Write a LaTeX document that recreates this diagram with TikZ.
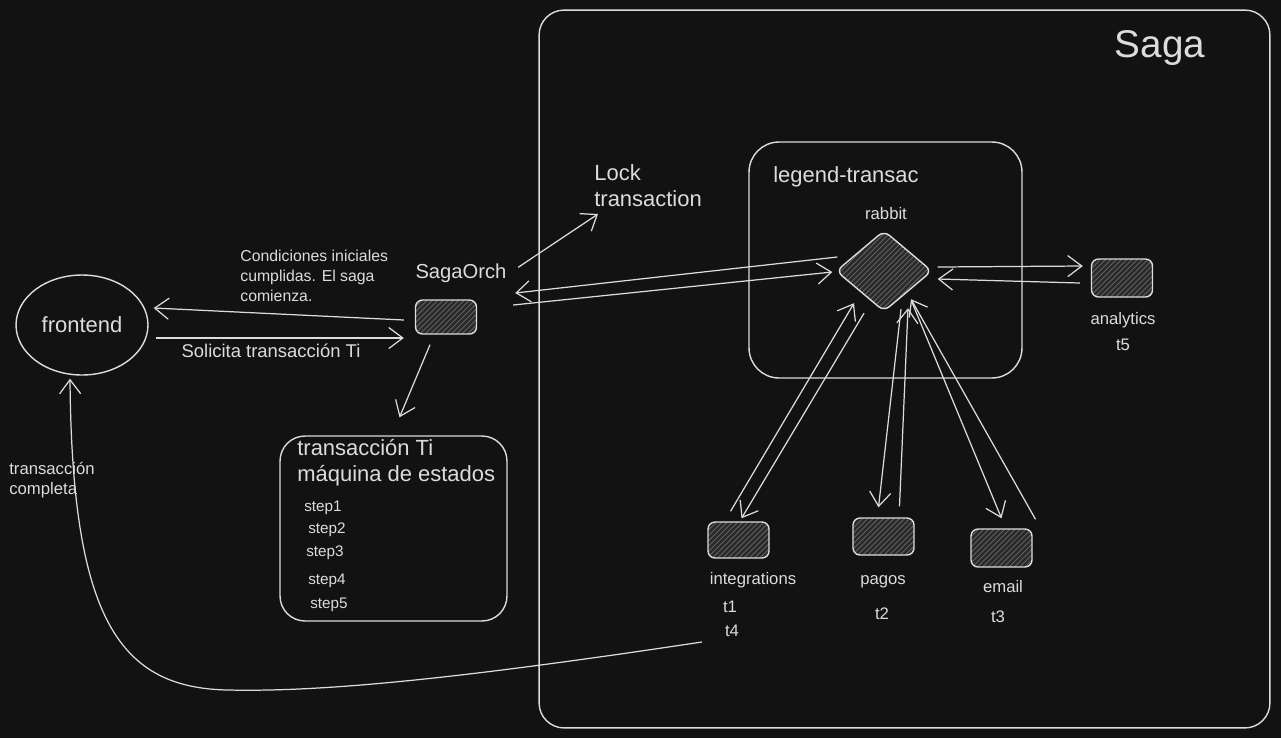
\documentclass[tikz,border=0pt]{standalone}
\usepackage{fontspec}
\setmainfont{Liberation Sans}
\usetikzlibrary{shapes.geometric,arrows.meta,patterns,calc}
\definecolor{bgc}{HTML}{121212}
\definecolor{inkc}{HTML}{DCDCDC}
\definecolor{hatchc}{HTML}{6A6A6A}
\definecolor{boxc}{HTML}{2A2A2A}
\tikzset{
  svc/.style={draw=inkc, line width=0.8pt, rounded corners=4pt, minimum width=1.22cm, minimum height=0.72cm,
    preaction={fill=boxc}, pattern=north east lines, pattern color=hatchc},
  areabox/.style={draw=inkc, line width=0.8pt},
  lbl/.style={text=inkc, font=\fontsize{9.5}{11.3}\selectfont},
  steptext/.style={text=inkc, font=\fontsize{8.7}{10}\selectfont},
  big/.style={text=inkc, font=\fontsize{12.5}{14.5}\selectfont},
  link/.style={draw=inkc, line width=0.7pt, -{Straight Barb[length=8pt,width=12pt]}},
}
\begin{document}
\begin{tikzpicture}[x=0.02cm,y=-0.02cm]
\useasboundingbox (0,0) rectangle (1281,738);
\fill[bgc] (0,0) rectangle (1281,738);
% areas
\node[areabox, minimum width=14.62cm, minimum height=14.36cm, rounded corners=0.5cm] (saga) at (904.5,369) {};
\node[text=inkc, font=\fontsize{22}{26}\selectfont] (sagat) at (1160,48) {Saga};
\node[areabox, minimum width=5.46cm, minimum height=4.72cm, rounded corners=0.6cm] (legend) at (885.5,260) {};
\node[big] (legendt) at (846,177) {legend-transac};
% frontend and orchestrator
\node[ellipse, draw=inkc, line width=0.8pt, minimum width=2.64cm, minimum height=2cm, big] (front) at (82,325) {frontend};
\node[svc, minimum height=0.68cm] (orch) at (446,317) {};
\node[big, font=\fontsize{11.5}{14}\selectfont] (orcht) at (461,273) {SagaOrch};
\node[big, align=left, anchor=south west, inner sep=0pt] (lock) at (594,207) {Lock\\transaction};
\node[lbl, font=\fontsize{9}{11.3}\selectfont, align=left, anchor=north west, inner sep=0pt] (cond) at (240,250) {Condiciones iniciales\\cumplidas. El saga\\comienza.};
\node[lbl, font=\fontsize{10.5}{12}\selectfont] (solt) at (271,351) {Solicita transacción Ti};
\node[lbl, align=left, anchor=north west, inner sep=0pt] (donet) at (9,462) {transacción\\completa};
% state machine
\node[areabox, minimum width=4.54cm, minimum height=3.7cm, rounded corners=0.5cm] (tbox) at (393.5,528.5) {};
\node[big, font=\fontsize{12.5}{15}\selectfont, align=left, anchor=north west, inner sep=0pt] (tboxt) at (297,439) {transacción Ti\\máquina de estados};
\node[steptext] (s1) at (323,508) {step1};
\node[steptext] (s2) at (327,530) {step2};
\node[steptext] (s3) at (325,553) {step3};
\node[steptext] (s4) at (327,581) {step4};
\node[steptext] (s5) at (329,605) {step5};
% broker and services
\node[svc, diamond, minimum width=1.92cm, minimum height=1.62cm, inner sep=0pt] (rabbit) at (884,271) {};
\node[lbl] (rabbitt) at (886,214) {rabbit};
\node[svc, minimum height=0.76cm] (ana) at (1122,278) {};
\node[lbl] (anat) at (1123,320) {analytics};
\node[lbl] (t5) at (1123,345) {t5};
\node[svc] (integ) at (738.5,540) {};
\node[lbl] (integt) at (753,580) {integrations};
\node[lbl] (t1) at (730,607) {t1};
\node[lbl] (t4) at (732,631) {t4};
\node[svc, minimum height=0.74cm] (pagos) at (883.5,536.5) {};
\node[lbl] (pagost) at (883,582) {pagos};
\node[lbl] (t2) at (882,614) {t2};
\node[svc, minimum height=0.76cm] (email) at (1001.5,548) {};
\node[lbl] (emailt) at (1003,587) {email};
\node[lbl] (t3) at (998,617) {t3};
% connectors
\draw[link] ($(orch.west)+(-11,3)$) -- ($(front.east)+(5,-17)$);
\draw[link] ($(front.east)+(7,13)$) -- ($(orch.west)+(-11,21)$);
\draw[link] ($(orch.north east)+(41,-32)$) -- ($(lock.south west)+(4,7)$);
\draw[link] ($(orch.south)+(-16,10)$) -- ($(tbox.north)+(6,-18)$);
\draw[link] ($(rabbit.west)+(2,-14)$) -- ($(orch.east)+(38,-24)$);
\draw[link] ($(orch.east)+(36,-12)$) -- ($(rabbit.west)+(-3,1)$);
\draw[link] ($(rabbit.east)+(5,-4)$) -- ($(ana.west)+(-8,-12)$);
\draw[link] ($(ana.west)+(-11,5)$) -- ($(rabbit.east)+(5,8)$);
\draw[link] ($(integ.north)+(-8,-10)$) -- ($(rabbit.south)+(-30,-9)$);
\draw[link] ($(rabbit.south)+(-20,1)$) -- ($(integ.north)+(3,-3)$);
\draw[link] ($(rabbit.south)+(17,-3)$) -- ($(pagos.north)+(-5,-10)$);
\draw[link] ($(pagos.north)+(16,-11)$) -- ($(rabbit.south)+(24,-4)$);
\draw[link] ($(rabbit.south)+(28,-10)$) -- ($(email.north)+(0,-10)$);
\draw[link] ($(email.north)+(34,-9)$) -- ($(rabbit.south)+(27,-13)$);
\draw[link] ($(t4.west)+(-17,11)$) .. controls (450,680) and (320,692) .. (228,690)
  .. controls (120,688) and (72,620) .. ($(front.south)+(-12,3)$);
\end{tikzpicture}
\end{document}
